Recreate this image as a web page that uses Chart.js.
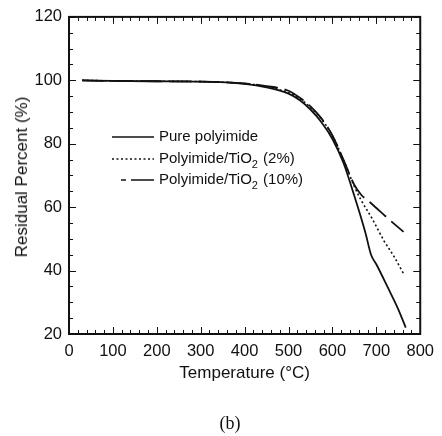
<!DOCTYPE html>
<html>
<head>
<meta charset="utf-8">
<script src="https://cdn.jsdelivr.net/npm/chart.js@4.4.0/dist/chart.umd.min.js"></script>
<style>
  html, body { margin: 0; padding: 0; background: #fff; overflow: hidden; }
  #wrap { position: relative; width: 442px; height: 436px; }
  #caption {
    position: absolute; left: 200px; width: 60px; top: 413px;
    text-align: center; font-family: "Liberation Serif", serif; font-size: 18px; color: #111;
  }
  #ytitle {
    position: absolute; left: 22px; top: 177px; white-space: nowrap;
    transform: translate(-50%, -50%) rotate(-90deg);
    font-family: "Liberation Sans", Arial, sans-serif; font-size: 17px; color: #111;
  }
</style>
</head>
<body>
<div id="wrap">
  <canvas id="tga" width="442" height="436"></canvas>
  <div id="ytitle">Residual Percent (%)</div>
  <div id="caption">(b)</div>
</div>
<script>
// ---- DATA ----
const tempPure = [30, 100, 200, 300, 400, 450, 500, 525, 550, 575, 600, 625, 650, 675, 688, 700, 725, 750, 767];
const pctPure  = [100, 99.8, 99.7, 99.6, 98.9, 97.8, 95.8, 93.8, 90.8, 86.8, 81.5, 74.0, 63.5, 52.0, 45.0, 42.0, 35.0, 27.8, 22.0];

const temp2 = [30, 100, 200, 300, 400, 450, 500, 525, 550, 575, 600, 625, 650, 665, 690, 717, 740, 762];
const pct2  = [100, 99.8, 99.7, 99.6, 99.0, 98.0, 96.1, 94.3, 91.5, 87.8, 82.5, 75.0, 66.5, 62.3, 56.5, 49.5, 44.5, 39.0];

const temp10 = [30, 100, 200, 300, 400, 450, 500, 525, 550, 575, 600, 625, 650, 665, 690, 730, 762];
const pct10  = [100, 99.8, 99.7, 99.6, 99.0, 98.2, 96.7, 94.6, 91.8, 88.0, 82.6, 75.0, 67.0, 64.0, 61.0, 56.0, 52.2];

const seriesNames = ["Pure polyimide", "Polyimide/TiO|2| (2%)", "Polyimide/TiO|2| (10%)"];
const xTicks = [0, 100, 200, 300, 400, 500, 600, 700, 800];
const yTicks = [20, 40, 60, 80, 100, 120];

function pts(xs, ys) { return xs.map((x, i) => ({ x: x, y: ys[i] })); }

const FONT = "'Liberation Sans', Arial, sans-serif";
const dashes = [[], [2, 2.5], [22, 7]];

// inward ticks, box and in-plot legend
const framePlugin = {
  id: "frame",
  afterDraw(chart) {
    const ctx = chart.ctx, a = chart.chartArea;
    const xs = chart.scales.x, ys = chart.scales.y;
    ctx.save();
    ctx.strokeStyle = "#111";
    ctx.lineWidth = 1;
    ctx.beginPath();
    for (let v = 0; v <= 800; v += 20) {
      const px = Math.round(xs.getPixelForValue(v)) + 0.5;
      const len = v % 100 === 0 ? 7 : 4;
      ctx.moveTo(px, a.bottom); ctx.lineTo(px, a.bottom - len);
      ctx.moveTo(px, a.top); ctx.lineTo(px, a.top + len);
    }
    for (let v = 20; v <= 120; v += 5) {
      const py = Math.round(ys.getPixelForValue(v)) + 0.5;
      const len = v % 20 === 0 ? 7 : 4;
      ctx.moveTo(a.left, py); ctx.lineTo(a.left + len, py);
      ctx.moveTo(a.right, py); ctx.lineTo(a.right - len, py);
    }
    ctx.stroke();
    ctx.lineWidth = 2;
    ctx.strokeRect(a.left, a.top, a.right - a.left, a.bottom - a.top);

    // legend
    const rows = [137, 159, 180];
    ctx.fillStyle = "#111";
    ctx.textBaseline = "middle";
    seriesNames.forEach((name, i) => {
      const y = rows[i];
      ctx.lineWidth = i === 1 ? 1.3 : 1.6;
      ctx.setLineDash(i === 1 ? dashes[1] : []);
      ctx.beginPath();
      if (i === 2) {
        ctx.moveTo(121, y); ctx.lineTo(126, y);
        ctx.moveTo(131, y); ctx.lineTo(154, y);
      } else {
        ctx.moveTo(112, y); ctx.lineTo(154, y);
      }
      ctx.stroke();
      ctx.setLineDash([]);
      const parts = name.split("|");
      let x = 159;
      parts.forEach((p, j) => {
        if (j === 1) {
          ctx.font = "11px " + FONT;
          ctx.fillText(p, x, y + 6);
          x += ctx.measureText(p).width + 1;
        } else {
          ctx.font = "15px " + FONT;
          ctx.fillText(p, x, y);
          x += ctx.measureText(p).width;
        }
      });
    });
    ctx.restore();
  }
};

new Chart(document.getElementById("tga"), {
  type: "line",
  data: {
    datasets: [
      { label: "Pure polyimide", data: pts(tempPure, pctPure), borderColor: "#111", borderWidth: 1.8, borderDash: dashes[0] },
      { label: "Polyimide/TiO2 (2%)", data: pts(temp2, pct2), borderColor: "#111", borderWidth: 1.6, borderDash: dashes[1] },
      { label: "Polyimide/TiO2 (10%)", data: pts(temp10, pct10), borderColor: "#111", borderWidth: 1.8, borderDash: dashes[2] }
    ]
  },
  options: {
    responsive: false,
    animation: false,
    cubicInterpolationMode: "monotone",
    elements: { point: { radius: 0 } },
    layout: { padding: { top: 16, right: 15, bottom: 52, left: 0 } },
    plugins: { legend: { display: false }, tooltip: { enabled: false } },
    scales: {
      x: {
        type: "linear", min: 0, max: 800,
        afterBuildTicks(s) { s.ticks = xTicks.map(v => ({ value: v })); },
        afterFit(s) { s.height = 50; },
        grid: { display: false, drawTicks: false },
        border: { display: false },
        ticks: { color: "#111", padding: 8, maxRotation: 0, font: { family: FONT, size: 16.5 } },
        title: { display: true, text: "Temperature (°C)", color: "#111", padding: 0, font: { family: FONT, size: 17 } }
      },
      y: {
        min: 20, max: 120,
        afterBuildTicks(s) { s.ticks = yTicks.map(v => ({ value: v })); },
        afterFit(s) { s.width = 69; },
        grid: { display: false, drawTicks: false },
        border: { display: false },
        ticks: { color: "#111", padding: 7, font: { family: FONT, size: 16.5 } },
        title: { display: false }
      }
    }
  },
  plugins: [framePlugin]
});
</script>
</body>
</html>
